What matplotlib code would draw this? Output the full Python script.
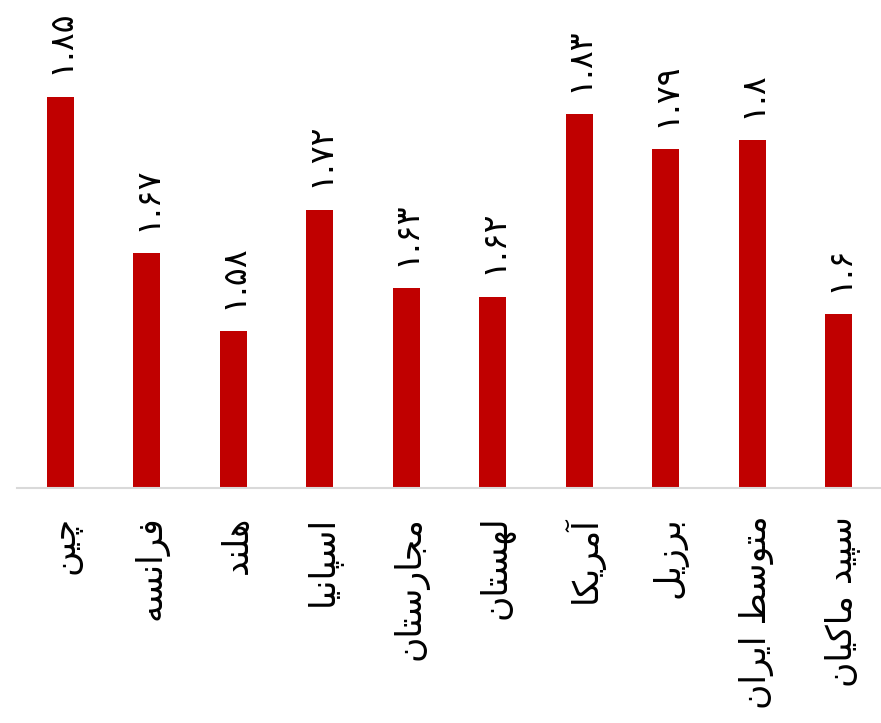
import matplotlib
matplotlib.use("Agg")
import matplotlib.pyplot as plt
import matplotlib.transforms as mtransforms

# data
categories = ["چین", "فرانسه", "هلند", "اسپانیا", "مجارستان",
              "لهستان", "آمریکا", "برزیل", "متوسط ایران", "سپید ماکیان"]
values = [1.85, 1.67, 1.58, 1.72, 1.63, 1.62, 1.83, 1.79, 1.8, 1.6]

# presentation forms: isolated, final, initial, medial
FORMS = {
    "ا": ("\uFE8D", "\uFE8E", None, None),
    "آ": ("\uFE81", "\uFE82", None, None),
    "د": ("\uFEA9", "\uFEAA", None, None),
    "ر": ("\uFEAD", "\uFEAE", None, None),
    "ز": ("\uFEAF", "\uFEB0", None, None),
    "و": ("\uFEED", "\uFEEE", None, None),
    "ب": ("\uFE8F", "\uFE90", "\uFE91", "\uFE92"),
    "پ": ("\uFB56", "\uFB57", "\uFB58", "\uFB59"),
    "ت": ("\uFE95", "\uFE96", "\uFE97", "\uFE98"),
    "ج": ("\uFE9D", "\uFE9E", "\uFE9F", "\uFEA0"),
    "چ": ("\uFB7A", "\uFB7B", "\uFB7C", "\uFB7D"),
    "س": ("\uFEB1", "\uFEB2", "\uFEB3", "\uFEB4"),
    "ط": ("\uFEC1", "\uFEC2", "\uFEC3", "\uFEC4"),
    "ف": ("\uFED1", "\uFED2", "\uFED3", "\uFED4"),
    "ک": ("\uFB8E", "\uFB8F", "\uFB90", "\uFB91"),
    "ل": ("\uFEDD", "\uFEDE", "\uFEDF", "\uFEE0"),
    "م": ("\uFEE1", "\uFEE2", "\uFEE3", "\uFEE4"),
    "ن": ("\uFEE5", "\uFEE6", "\uFEE7", "\uFEE8"),
    "ه": ("\uFEE9", "\uFEEA", "\uFEEB", "\uFEEC"),
    "ی": ("\uFBFC", "\uFBFD", "\uFBFE", "\uFBFF"),
}


def shape(text):
    """Join Persian letters and flip to visual order (no bidi in matplotlib)."""
    out = []
    n = len(text)
    for i, ch in enumerate(text):
        if ch not in FORMS:
            out.append(ch)
            continue
        prev = text[i - 1] if i > 0 else None
        nxt = text[i + 1] if i < n - 1 else None
        # previous letter joins forward only if it is dual-joining
        join_prev = prev in FORMS and FORMS[prev][2] is not None
        dual = FORMS[ch][2] is not None
        join_next = dual and nxt in FORMS
        iso, fin, ini, med = FORMS[ch]
        if join_prev and join_next:
            out.append(med)
        elif join_prev:
            out.append(fin)
        elif join_next:
            out.append(ini)
        else:
            out.append(iso)
    return "".join(out)[::-1]


def fa_num(v):
    digits = "۰۱۲۳۴۵۶۷۸۹"
    s = ("%.2f" % v).rstrip("0")
    return "".join(digits[int(c)] if c.isdigit() else c for c in s)


plt.rcParams["font.family"] = ["DejaVu Sans"]

fig = plt.figure(figsize=(8.81, 7.23), dpi=100)
ax = fig.add_axes([17 / 881, 235 / 723, 865 / 881, 488 / 723])

x = range(len(categories))
bars = ax.bar(x, values, width=0.31, color="#C00000")

ax.set_ylim(1.4, 1.961)
ax.set_xlim(-0.5, len(categories) - 0.5)

for b, v in zip(bars, values):
    ax.annotate(fa_num(v), (b.get_x() + b.get_width() / 2, v),
                xytext=(0, 16), textcoords="offset points",
                ha="center", va="bottom", rotation=90, fontsize=24)

ax.set_xticks(list(x))
ax.set_xticklabels([shape(c) for c in categories], rotation=90, fontsize=25)
ax.tick_params(axis="x", length=0, pad=20)
ax.set_yticks([])

# nudge the category labels a little to the right
shift = mtransforms.ScaledTranslation(4 / 100, 0, fig.dpi_scale_trans)
for lbl in ax.get_xticklabels():
    lbl.set_transform(lbl.get_transform() + shift)

for s in ["top", "right", "left"]:
    ax.spines[s].set_visible(False)
ax.spines["bottom"].set_color("#D9D9D9")
ax.spines["bottom"].set_linewidth(1.5)

fig.savefig("out.png", dpi=100)
